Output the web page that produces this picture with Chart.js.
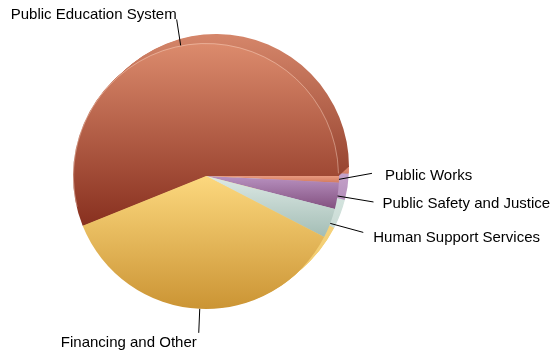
<!DOCTYPE html>
<html>
<head>
<meta charset="utf-8">
<script src="https://cdn.jsdelivr.net/npm/chart.js@4/dist/chart.umd.min.js"></script>
<style>
  html, body { margin: 0; padding: 0; background: #fff; }
  #wrap { width: 552px; height: 353px; position: relative; }
</style>
</head>
<body>
<div id="wrap"><canvas id="pizza"></canvas></div>
<script>
// fatias em sentido horário a partir das 3 horas (%)
const categorias = ['Public Works', 'Public Safety and Justice', 'Human Support Services', 'Financing and Other', 'Public Education System'];
const valores = [0.8, 3.2, 3.6, 36.3, 56.1];

// degradê vertical de cada fatia (topo -> base)
const corTopo = ['#e89a80', '#b891c0', '#dde9e5', '#fcd87e', '#dc8b6d'];
const corBase = ['#d27a5e', '#82507f', '#a3bdb5', '#cb9434', '#88301f'];

// lateral (profundidade) de cada fatia
const ladoTopo = ['#e3917a', '#c8a6cd', '#dcebe6', '#f9da8a', '#d5866a'];
const ladoBase = ['#d17b62', '#b590bb', '#cbdcd6', '#f0c868', '#84301f'];
const DESLOC = [10, -9];

// ponta da linha guia relativa à borda da fatia, e texto relativo à ponta
const guias = [
  { linha: [33, -6], texto: [13, 3], alinh: 'left' },
  { linha: [36, 6], texto: [9, 2], alinh: 'left' },
  { linha: [33, 9], texto: [10, 5], alinh: 'left' },
  { linha: [-1, 24], texto: [-2, 10], alinh: 'right' },
  { linha: [-4, -26], texto: [0, -5], alinh: 'right' }
];

function faixaY(arc) {
  let y0 = arc.y, y1 = arc.y;
  for (let k = 0; k <= 60; k++) {
    const a = arc.startAngle + (arc.endAngle - arc.startAngle) * k / 60;
    const y = arc.y + Math.sin(a) * arc.outerRadius;
    y0 = Math.min(y0, y); y1 = Math.max(y1, y);
  }
  return [y0, y1];
}

function degrade(ctx, arc, topo, base, dy) {
  const [y0, y1] = faixaY(arc);
  const g = ctx.createLinearGradient(0, y0 + (dy || 0), 0, y1 + (dy || 0));
  g.addColorStop(0, topo);
  g.addColorStop(1, base);
  return g;
}

const relevo = {
  id: 'relevo',
  beforeDatasetsDraw(chart) {
    const ctx = chart.ctx;
    const arcs = chart.getDatasetMeta(0).data;
    arcs.forEach((arc, i) => {
      arc.options.backgroundColor = degrade(ctx, arc, corTopo[i], corBase[i]);
    });
    // lateral desenhada por baixo das faces
    arcs.forEach((arc, i) => {
      ctx.save();
      ctx.fillStyle = degrade(ctx, arc, ladoTopo[i], ladoBase[i], DESLOC[1]);
      const passos = 12;
      for (let k = passos; k >= 1; k--) {
        const dx = DESLOC[0] * k / passos, dy = DESLOC[1] * k / passos;
        ctx.beginPath();
        ctx.moveTo(arc.x + dx, arc.y + dy);
        ctx.arc(arc.x + dx, arc.y + dy, arc.outerRadius, arc.startAngle, arc.endAngle);
        ctx.closePath();
        ctx.fill();
      }
      ctx.restore();
    });
  },
  afterDatasetsDraw(chart) {
    const ctx = chart.ctx;
    const arcs = chart.getDatasetMeta(0).data;
    // brilho fraco na borda da fatia maior
    const maior = arcs[arcs.length - 1];
    ctx.save();
    ctx.strokeStyle = 'rgba(255,228,212,0.4)';
    ctx.lineWidth = 1;
    ctx.beginPath();
    ctx.arc(maior.x, maior.y, maior.outerRadius - 0.5, maior.startAngle + 0.15, maior.endAngle - 0.02);
    ctx.stroke();
    ctx.restore();
    // rótulos com linha guia
    ctx.save();
    ctx.font = '15px "Liberation Sans", Arial, sans-serif';
    ctx.fillStyle = '#000';
    ctx.strokeStyle = '#000';
    ctx.lineWidth = 1;
    ctx.textBaseline = 'middle';
    arcs.forEach((arc, i) => {
      const meio = (arc.startAngle + arc.endAngle) / 2;
      const ax = arc.x + Math.cos(meio) * arc.outerRadius;
      const ay = arc.y + Math.sin(meio) * arc.outerRadius;
      const g = guias[i];
      const fx = ax + g.linha[0], fy = ay + g.linha[1];
      ctx.beginPath();
      ctx.moveTo(ax, ay);
      ctx.lineTo(fx, fy);
      ctx.stroke();
      ctx.textAlign = g.alinh;
      ctx.fillText(categorias[i], fx + g.texto[0], fy + g.texto[1]);
    });
    ctx.restore();
  }
};

new Chart(document.getElementById('pizza'), {
  type: 'pie',
  data: {
    labels: categorias,
    datasets: [{
      data: valores,
      backgroundColor: corBase,
      borderWidth: 0,
      hoverOffset: 0
    }]
  },
  options: {
    responsive: true, maintainAspectRatio: false,
    animation: false,
    rotation: 90,
    layout: { padding: { left: 73, right: 213, top: 43, bottom: 44 } },
    plugins: { legend: { display: false }, tooltip: { enabled: false } },
    events: []
  },
  plugins: [relevo]
});
</script>
</body>
</html>
